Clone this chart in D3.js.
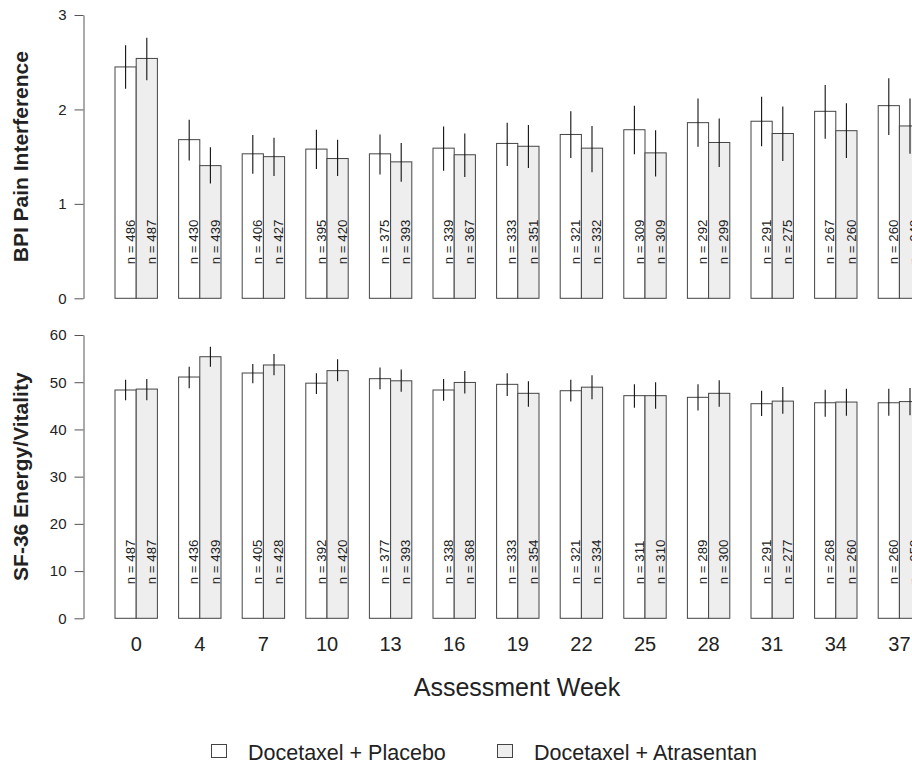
<!DOCTYPE html>
<html>
<head>
<meta charset="utf-8">
<script src="https://cdn.jsdelivr.net/npm/d3@7"></script>
<style>
  html, body { margin: 0; padding: 0; background: #ffffff; }
  svg { display: block; font-family: "Liberation Sans", Arial, Helvetica, sans-serif; }
</style>
</head>
<body>
<svg id="chart" width="912" height="766"></svg>
<script>
// Assessment weeks (x categories)
const weeks = [0, 4, 7, 10, 13, 16, 19, 22, 25, 28, 31, 34, 37];
const seriesNames = ["Docetaxel + Placebo", "Docetaxel + Atrasentan"];

// BPI Pain Interference: mean and 95% CI per week
const bpiPlaceboMean = [2.45, 1.68, 1.53, 1.58, 1.53, 1.59, 1.64, 1.735, 1.785, 1.86, 1.875, 1.98, 2.04];
const bpiPlaceboLo   = [2.22, 1.46, 1.32, 1.37, 1.31, 1.35, 1.40, 1.485, 1.525, 1.605, 1.61, 1.69, 1.73];
const bpiPlaceboHi   = [2.68, 1.89, 1.73, 1.785, 1.735, 1.82, 1.86, 1.98, 2.04, 2.115, 2.135, 2.26, 2.33];
const bpiAtraMean    = [2.54, 1.405, 1.50, 1.48, 1.445, 1.52, 1.61, 1.59, 1.54, 1.65, 1.745, 1.775, 1.825];
const bpiAtraLo      = [2.31, 1.215, 1.295, 1.295, 1.235, 1.285, 1.38, 1.335, 1.29, 1.39, 1.455, 1.485, 1.53];
const bpiAtraHi      = [2.76, 1.60, 1.70, 1.68, 1.645, 1.745, 1.835, 1.825, 1.78, 1.905, 2.03, 2.065, 2.115];
const bpiPlaceboN    = [486, 430, 406, 395, 375, 339, 333, 321, 309, 292, 291, 267, 260];
const bpiAtraN       = [487, 439, 427, 420, 393, 367, 351, 332, 309, 299, 275, 260, 248];
const bpiTicks       = [0, 1, 2, 3];

// SF-36 Energy/Vitality: mean and 95% CI per week
const sfPlaceboMean = [48.35, 51.1, 51.95, 49.8, 50.75, 48.35, 49.55, 48.2, 47.15, 46.8, 45.45, 45.65, 45.65];
const sfPlaceboLo   = [46.2, 48.7, 49.8, 47.5, 48.5, 46.1, 47.1, 45.9, 44.6, 44.0, 42.85, 42.7, 42.9];
const sfPlaceboHi   = [50.5, 53.3, 53.85, 51.9, 53.1, 50.7, 51.9, 50.5, 49.55, 49.55, 48.2, 48.4, 48.6];
const sfAtraMean    = [48.55, 55.4, 53.65, 52.45, 50.3, 49.95, 47.65, 48.95, 47.15, 47.65, 46.0, 45.8, 45.9];
const sfAtraLo      = [46.2, 53.3, 51.5, 50.2, 48.0, 47.6, 44.8, 46.4, 44.4, 44.8, 43.3, 42.9, 43.0];
const sfAtraHi      = [50.7, 57.5, 56.0, 54.85, 52.7, 52.4, 50.2, 51.5, 50.0, 50.4, 49.0, 48.6, 48.8];
const sfPlaceboN    = [487, 436, 405, 392, 377, 338, 333, 321, 311, 289, 291, 268, 260];
const sfAtraN       = [487, 439, 428, 420, 393, 368, 354, 334, 310, 300, 277, 260, 253];
const sfTicks       = [0, 10, 20, 30, 40, 50, 60];

const fills = ["#ffffff", "#eeeeee"];
const textColor = "#222222";
const axisColor = "#555555";

const svg = d3.select("#chart");

// Group bands: bars of width 1 unit, 1 unit of space between groups
const x0 = d3.scaleBand()
  .domain(weeks)
  .range([104.4, 104.4 + weeks.length * 63.6])
  .paddingInner(1 / 3)
  .paddingOuter(1 / 6);
const x1 = d3.scaleBand()
  .domain([0, 1])
  .range([0, x0.bandwidth()]);

const axisX = 83.5;

function buildRows(pm, plo, phi, pn, am, alo, ahi, an) {
  return weeks.map((w, i) => ({
    week: w,
    vals: [
      { s: 0, mean: pm[i], lo: plo[i], hi: phi[i], n: pn[i] },
      { s: 1, mean: am[i], lo: alo[i], hi: ahi[i], n: an[i] }
    ]
  }));
}

function drawPanel(rows, yDomain, yRange, ticks, title) {
  const y = d3.scaleLinear().domain(yDomain).range(yRange);
  const g = svg.append("g");

  // y axis
  const ax = g.append("g")
    .attr("transform", `translate(${axisX},0)`)
    .call(d3.axisLeft(y)
      .tickValues(ticks)
      .tickFormat(d3.format("d"))
      .tickSize(9)
      .tickSizeOuter(0)
      .tickPadding(8));
  ax.selectAll("path, line").attr("stroke", axisColor);
  ax.selectAll("text")
    .attr("fill", textColor)
    .attr("font-size", 15)
    .attr("font-family", "Liberation Sans, Arial, sans-serif");

  // axis title
  const yMid = (y.range()[0] + y.range()[1]) / 2;
  g.append("text")
    .attr("transform", `translate(28,${yMid}) rotate(-90)`)
    .attr("text-anchor", "middle")
    .attr("font-weight", "bold")
    .attr("font-size", 21)
    .attr("fill", textColor)
    .text(title);

  const groups = g.selectAll(".grp")
    .data(rows)
    .join("g")
    .attr("class", "grp")
    .attr("transform", d => `translate(${x0(d.week)},0)`);

  const bars = groups.selectAll(".bar")
    .data(d => d.vals)
    .join("g")
    .attr("class", "bar");

  bars.append("rect")
    .attr("x", d => x1(d.s))
    .attr("width", x1.bandwidth())
    .attr("y", d => y(d.mean))
    .attr("height", d => y(0) - y(d.mean))
    .attr("fill", d => fills[d.s])
    .attr("stroke", "#444444")
    .attr("stroke-width", 1);

  // confidence interval lines
  bars.append("line")
    .attr("x1", d => x1(d.s) + x1.bandwidth() / 2)
    .attr("x2", d => x1(d.s) + x1.bandwidth() / 2)
    .attr("y1", d => y(d.lo))
    .attr("y2", d => y(d.hi))
    .attr("stroke", "#111111")
    .attr("stroke-width", 1.1);

  // sample size labels inside the bars
  bars.append("text")
    .attr("transform", d => `translate(${x1(d.s) + x1.bandwidth() / 2 + 9.2},${y(0) - 34}) rotate(-90)`)
    .attr("text-anchor", "start")
    .attr("font-size", 13.3)
    .attr("fill", textColor)
    .text(d => `n = ${d.n}`);

  return y;
}

const topRows = buildRows(bpiPlaceboMean, bpiPlaceboLo, bpiPlaceboHi, bpiPlaceboN,
                          bpiAtraMean, bpiAtraLo, bpiAtraHi, bpiAtraN);
const botRows = buildRows(sfPlaceboMean, sfPlaceboLo, sfPlaceboHi, sfPlaceboN,
                          sfAtraMean, sfAtraLo, sfAtraHi, sfAtraN);

drawPanel(topRows, [0, 3], [298.3, 15], bpiTicks, "BPI Pain Interference");
drawPanel(botRows, [0, 60], [618.3, 335], sfTicks, "SF-36 Energy/Vitality");

// week labels under the lower panel
svg.append("g")
  .selectAll("text")
  .data(weeks)
  .join("text")
  .attr("x", d => x0(d) + x0.bandwidth() / 2)
  .attr("y", 651)
  .attr("text-anchor", "middle")
  .attr("font-size", 20)
  .attr("fill", textColor)
  .text(d => d);

svg.append("text")
  .attr("x", 517)
  .attr("y", 695.5)
  .attr("text-anchor", "middle")
  .attr("font-size", 25)
  .attr("fill", textColor)
  .text("Assessment Week");

// legend
const legendX = [211.5, 497.5];
const legend = svg.append("g")
  .selectAll("g")
  .data(seriesNames)
  .join("g")
  .attr("transform", (d, i) => `translate(${legendX[i]},744.5)`);
legend.append("rect")
  .attr("width", 15)
  .attr("height", 13)
  .attr("fill", (d, i) => fills[i])
  .attr("stroke", "#444444");
legend.append("text")
  .attr("x", 36.5)
  .attr("y", 15.5)
  .attr("font-size", 21.5)
  .attr("fill", textColor)
  .text(d => d);
</script>
</body>
</html>
